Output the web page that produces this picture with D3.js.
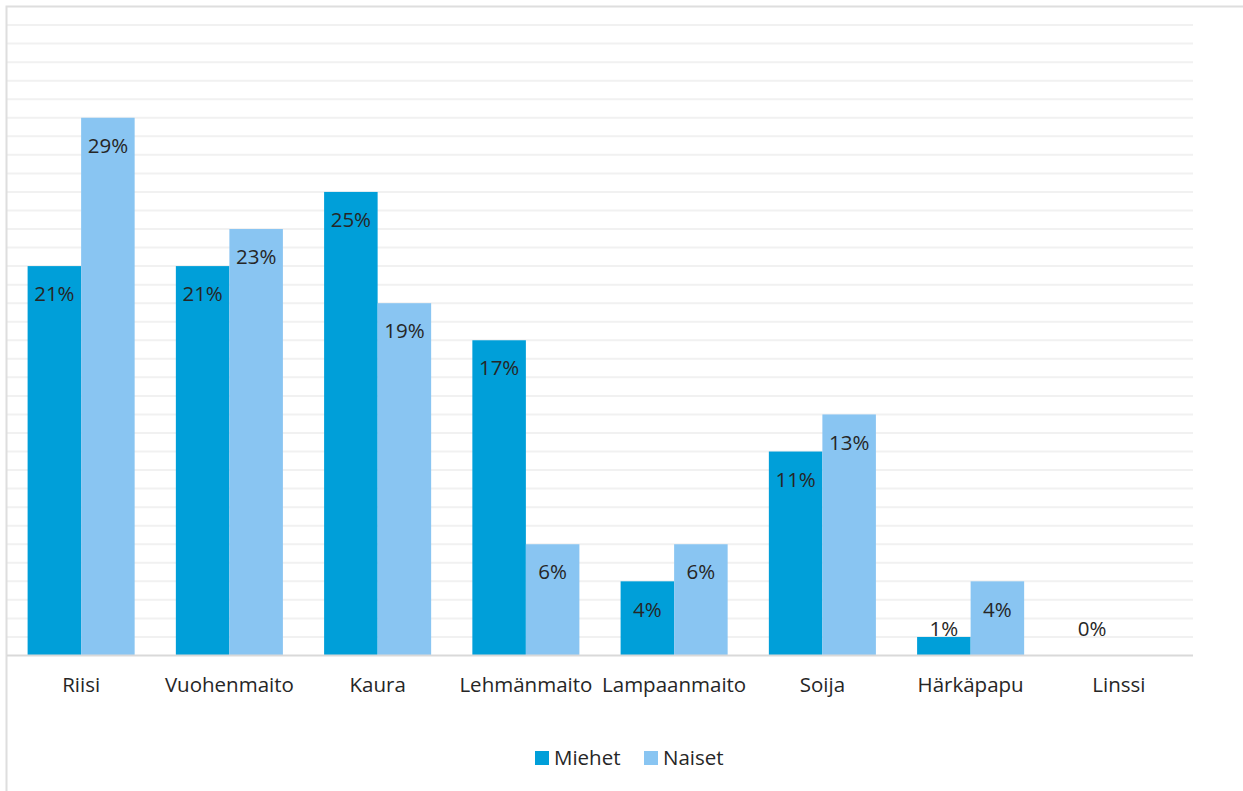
<!DOCTYPE html>
<html>
<head>
<meta charset="utf-8">
<script src="https://cdn.jsdelivr.net/npm/d3@7"></script>
<style>
  body { margin: 0; background: #fff; }
  svg { display: block; font-family: "Open Sans", "Noto Sans", sans-serif; }
</style>
</head>
<body>
<svg id="chart"></svg>
<script>
const categories = ["Riisi", "Vuohenmaito", "Kaura", "Lehmänmaito", "Lampaanmaito", "Soija", "Härkäpapu", "Linssi"];
const seriesNames = ["Miehet", "Naiset"];
const miehet = [21, 21, 25, 17, 4, 11, 1, 0];
const naiset = [29, 23, 19, 6, 6, 13, 4, null];
const colors = ["#009fd9", "#89c5f2"];

const width = 1243, height = 791;
const marginLeft = 7, marginRight = 50, marginTop = 6.5, plotBottom = 655.5;
const fontSize = 20.5;

const svg = d3.select("#chart")
    .attr("width", width)
    .attr("height", height)
    .attr("viewBox", [0, 0, width, height]);

const x = d3.scaleBand(categories, [marginLeft, width - marginRight]).paddingInner(0.278).paddingOuter(0.139);
const xs = d3.scaleBand(seriesNames, [0, x.bandwidth()]);
const y = d3.scaleLinear([0, 35], [plotBottom, marginTop]);

// gridlines every 1%
svg.append("g")
  .selectAll("line")
  .data(d3.range(1, 35))
  .join("line")
    .attr("x1", marginLeft)
    .attr("x2", width - marginRight)
    .attr("y1", d => y(d))
    .attr("y2", d => y(d))
    .attr("stroke", "#f1f1f1")
    .attr("stroke-width", 2);

// chart border (top + left)
svg.append("path")
    .attr("d", `M${marginLeft - 0.5},${height} V${marginTop} H${width}`)
    .attr("fill", "none")
    .attr("stroke", "#dedede")
    .attr("stroke-width", 2);

const data = [];
categories.forEach((c, i) => {
  data.push({cat: c, s: "Miehet", v: miehet[i], color: colors[0]});
  data.push({cat: c, s: "Naiset", v: naiset[i], color: colors[1]});
});

svg.append("g")
  .selectAll("rect")
  .data(data.filter(d => d.v !== null))
  .join("rect")
    .attr("x", d => x(d.cat) + xs(d.s))
    .attr("y", d => y(d.v))
    .attr("width", xs.bandwidth())
    .attr("height", d => y(0) - y(d.v))
    .attr("fill", d => d.color);

// x axis baseline
svg.append("g")
    .attr("transform", `translate(0,${plotBottom})`)
    .call(d3.axisBottom(x).tickSize(0).tickPadding(22))
    .call(g => g.select(".domain").attr("stroke", "#d9d9d9").attr("stroke-width", 2)
        .attr("d", `M${marginLeft},0H${width - marginRight}`))
    .call(g => g.selectAll(".tick text")
        .attr("font-size", fontSize)
        .attr("font-family", "\"Open Sans\", \"Noto Sans\", sans-serif")
        .attr("fill", "#262626"));

// value labels
svg.append("g")
  .selectAll("text")
  .data(data.filter(d => d.v !== null))
  .join("text")
    .attr("x", d => x(d.cat) + xs(d.s) + xs.bandwidth() / 2)
    .attr("y", d => Math.min(y(d.v) + 28, y(0) - 27))
    .attr("dy", "0.35em")
    .attr("text-anchor", "middle")
    .attr("font-size", fontSize)
    .attr("fill", "#262626")
    .text(d => d.v + "%");

// legend
const legend = svg.append("g").attr("transform", "translate(535,758)");
const lx = [0, 109];
seriesNames.forEach((s, i) => {
  const g = legend.append("g").attr("transform", `translate(${lx[i]},0)`);
  g.append("rect").attr("x", 0).attr("y", -7).attr("width", 14).attr("height", 14).attr("fill", colors[i]);
  g.append("text").attr("x", 19).attr("y", 0).attr("dy", "0.35em")
    .attr("font-size", fontSize).attr("fill", "#262626").text(s);
});
</script>
</body>
</html>
